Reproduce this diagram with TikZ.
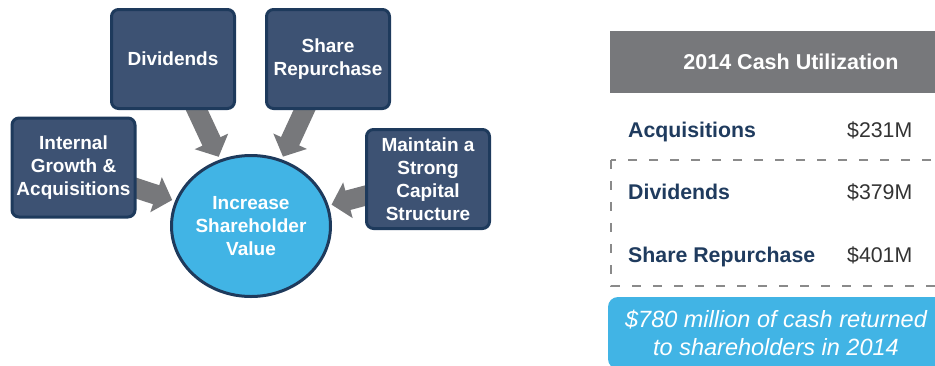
\documentclass[tikz,border=0pt]{standalone}
\usepackage{fontspec}
\setmainfont{Liberation Sans}
\usetikzlibrary{arrows.meta,shapes.geometric,backgrounds}
\definecolor{boxblau}{HTML}{3D5273}
\definecolor{randblau}{HTML}{1E3A5C}
\definecolor{hellblau}{HTML}{41B4E5}
\definecolor{grau}{HTML}{77787B}
\definecolor{strichgrau}{HTML}{8A8A8A}
\definecolor{schriftblau}{HTML}{1F3B5E}
\definecolor{schriftgrau}{HTML}{333333}
\tikzset{
	ziel/.style={rectangle, rounded corners=7pt, fill=boxblau, draw=randblau,
		line width=3pt, minimum width=123pt, minimum height=99pt, inner sep=0pt,
		text=white, align=center, font=\fontsize{19}{23}\selectfont\bfseries},
	wert/.style={ellipse, fill=hellblau, draw=randblau, line width=3pt,
		minimum width=159pt, minimum height=141pt, inner sep=0pt,
		text=white, align=center, font=\fontsize{19}{23}\selectfont\bfseries},
	pfeil/.style={draw=grau, line width=20pt, shorten <=-6pt, shorten >=3pt,
		-{Triangle[length=17pt,width=36pt]}},
	posten/.style={anchor=base west, inner sep=0pt, text=schriftblau,
		font=\fontsize{21.3}{25}\selectfont\bfseries},
	betrag/.style={anchor=base west, inner sep=0pt, text=schriftgrau,
		font=\fontsize{21.3}{25}\selectfont}
}
\begin{document}
\begin{tikzpicture}[x=1pt, y=-1pt]
	\useasboundingbox (0,0) rectangle (935,365);
	\clip (0,0) rectangle (935,365);
	% Ziele
	\node[ziel] (dividenden) at (173,59) {Dividends};
	\node[ziel] (rueckkauf) at (328,59) {Share\\Repurchase};
	\node[ziel] (wachstum) at (73.5,167.5) {Internal\\Growth \&\\Acquisitions};
	\node[ziel] (kapital) at (428,179) {Maintain a\\Strong\\Capital\\Structure};
	\node[wert] (mitte) at (251,226) {Increase\\Shareholder\\Value};
	% Pfeile
	\begin{scope}[on background layer]
		\draw[pfeil] (dividenden) -- (mitte);
		\draw[pfeil] (rueckkauf) -- (mitte);
		\draw[pfeil] (wachstum) -- (mitte);
		\draw[pfeil] (kapital) -- (mitte);
	\end{scope}
	% Tabelle
	\node[fill=grau, minimum width=362pt, minimum height=62pt, text=white,
		font=\fontsize{21.5}{25}\selectfont\bfseries] (kopf) at (791,62)
		{2014 Cash Utilization};
	\draw[strichgrau, line width=1.5pt, dash pattern=on 9pt off 12pt]
		(611,160) rectangle (960,286);
	\node[posten] (akq) at (628,137) {Acquisitions};
	\node[betrag] (akqwert) at (847,137) {\$231M};
	\node[posten] (div) at (628,199) {Dividends};
	\node[betrag] (divwert) at (847,199) {\$379M};
	\node[posten] (rk) at (628,262) {Share Repurchase};
	\node[betrag] (rkwert) at (847,262) {\$401M};
	% Summe
	\node[fill=hellblau, rounded corners=10pt, minimum width=336pt,
		minimum height=72pt, text=white, align=center,
		font=\fontsize{23.5}{28}\selectfont\itshape] (summe) at (776,333)
		{\$780 million of cash returned\\to shareholders in 2014};
\end{tikzpicture}
\end{document}
